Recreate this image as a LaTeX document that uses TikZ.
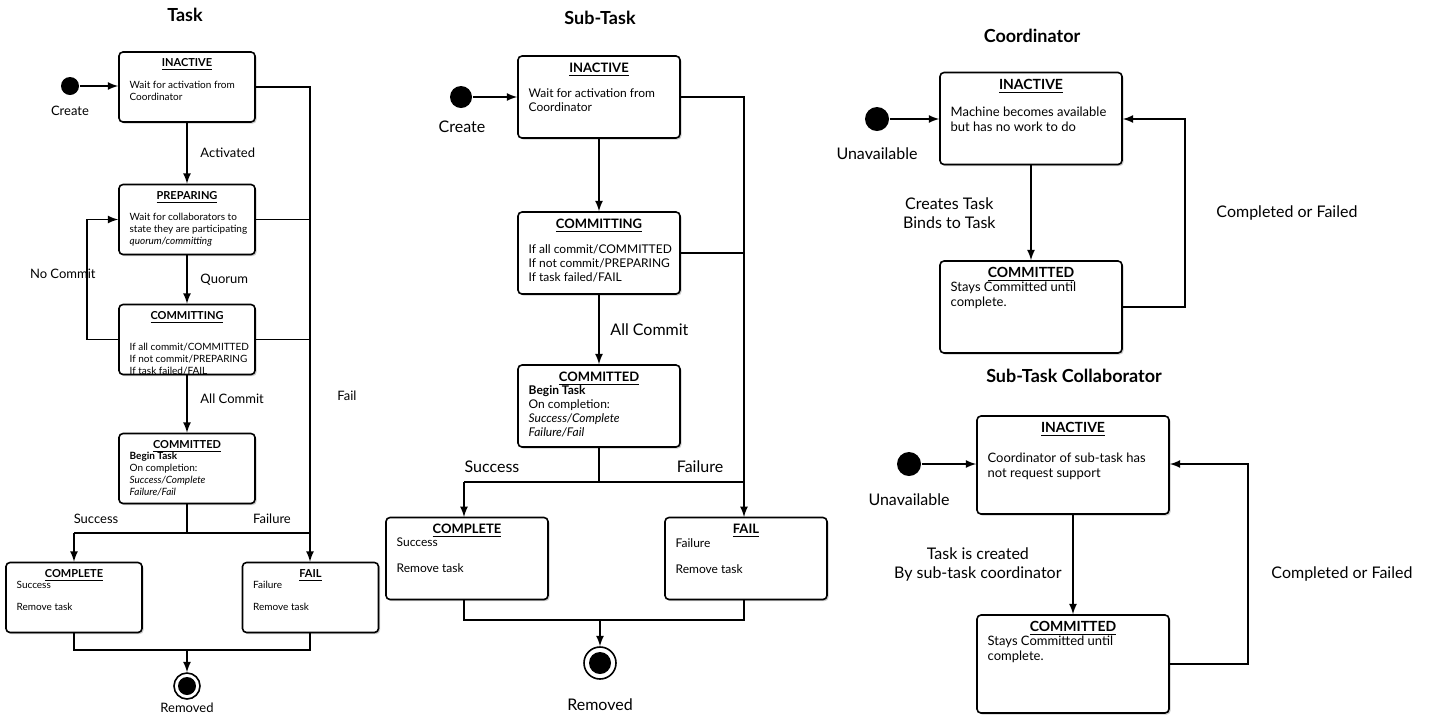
\documentclass[tikz,border=0pt]{standalone}
\usepackage{fontspec}
\setmainfont{Lato}
\usetikzlibrary{positioning, arrows, shadows}

\begin{document}
\begin{tikzpicture}
	[x=0.5pt, y=-0.5pt, >=latex, line width=0.8pt,
	 box/.style={draw, rounded corners=2pt, fill=white, drop shadow={shadow xshift=0.8pt, shadow yshift=-0.8pt, opacity=0.4}, inner sep=0pt},
	 sbox/.style={box, minimum width=68pt, minimum height=35pt},
	 mbox/.style={box, minimum width=81pt, minimum height=41pt},
	 cbox/.style={box, minimum width=91pt, minimum height=46pt},
	 kbox/.style={box, minimum width=96pt, minimum height=49pt},
	 start/.style={circle, fill=black, inner sep=0pt},
	 lab/.style={font=\fontsize{6.5}{7}\selectfont},
	 blab/.style={font=\fontsize{8}{9.5}\selectfont, align=center},
	 ttl/.style={font=\fontsize{9}{10}\selectfont\bfseries}]
   \useasboundingbox (0,0) rectangle (1450,720);
   % ---- Task
   \node[ttl] at (185,15) {Task};
   \node[sbox] (t_in) at (187,87) {};
   \node[sbox] (t_pr) at (187,219.5) {};
   \node[sbox] (t_cg) at (187,339.5) {};
   \node[sbox] (t_cd) at (187,468.5) {};
   \node[sbox] (t_co) at (74,597.5) {};
   \node[sbox] (t_fa) at (310.5,597.5) {};
   \node[start, minimum size=9pt] (t_s) at (70,86) {};
   \node[lab] at (70,111) {Create};
   \node[circle, draw, fill=white, minimum size=13pt, inner sep=0pt] (t_e) at (187,686) {};
   \node[start, minimum size=9pt] at (t_e) {};
   \node[lab] at (187,708) {Removed};
   \begin{scope}[every node/.style={font=\fontsize{5}{6}\selectfont, align=left, anchor=north west}]
   \node[anchor=north, font=\fontsize{5.5}{6}\selectfont\bfseries] at (t_in.north) {\underline{INACTIVE}};
   \node at ([xshift=2pt,yshift=-11pt]t_in.north west) {Wait for activation from\\Coordinator};
   \node[anchor=north, font=\fontsize{5.5}{6}\selectfont\bfseries] at (t_pr.north) {\underline{PREPARING}};
   \node at ([xshift=2pt,yshift=-11pt]t_pr.north west) {Wait for collaborators to\\state they are participating\\\textit{quorum/committing}};
   \node[anchor=north, font=\fontsize{5.5}{6}\selectfont\bfseries] at (t_cg.north) {\underline{COMMITTING}};
   \node at ([xshift=2pt,yshift=-16pt]t_cg.north west) {If all commit/COMMITTED\\If not commit/PREPARING\\If task failed/FAIL};
   \node[anchor=north, font=\fontsize{5.5}{6}\selectfont\bfseries] at (t_cd.north) {\underline{COMMITTED}};
   \node at ([xshift=2pt,yshift=-6pt]t_cd.north west) {\textbf{Begin Task}\\On completion:\\\textit{Success/Complete}\\\textit{Failure/Fail}};
   \node[anchor=north, font=\fontsize{5.5}{6}\selectfont\bfseries] at (t_co.north) {\underline{COMPLETE}};
   \node at ([xshift=2pt,yshift=-6pt]t_co.north west) {Success\\[5pt]Remove task};
   \node[anchor=north, font=\fontsize{5.5}{6}\selectfont\bfseries] at (t_fa.north) {\underline{FAIL}};
   \node at ([xshift=2pt,yshift=-6pt]t_fa.north west) {Failure\\[5pt]Remove task};
   \end{scope}
   \draw[->] (t_s) -- (t_in.west |- t_s);
   \draw[->] (t_in) -- node[lab, right=3pt] {Activated} (t_pr);
   \draw[->] (t_pr) -- node[lab, right=3pt] {Quorum} (t_cg);
   \draw[->] (t_cg) -- node[lab, right=3pt, pos=0.4] {All Commit} (t_cd);
   \draw[->] (t_cg.west) -- (87,339.5) -- node[lab, left=-8pt, pos=0.55] {No Commit} (87,219.5) -- (t_pr.west);
   \draw[->] (t_in.east) -- (310,87) -- node[lab, right=10pt, pos=0.65] {Fail} (t_fa.north -| 310,0);
   \draw (t_pr.east) -- (310,219.5) (t_cg.east) -- (310,339.5);
   \draw (t_cd.south) -- (187,533) (74,533) -- (310,533);
   \draw[->] (74,533) -- (t_co.north);
   \node[lab, above] at (96,531) {Success};
   \node[lab, above] at (272,531) {Failure};
   \draw (t_co.south) -- (74,650) -- (310,650) -- (310,632);
   \draw[->] (187,650) -- (t_e);
   % ---- Sub-Task
   \node[ttl] at (600,18) {Sub-Task};
   \node[mbox] (s_in) at (599,97) {};
   \node[mbox] (s_cg) at (599,253) {};
   \node[mbox] (s_cd) at (599,406) {};
   \node[mbox] (s_co) at (467,558.5) {};
   \node[mbox] (s_fa) at (746,558.5) {};
   \node[start, minimum size=11pt] (s_s) at (461,97) {};
   \node[blab] at (462,127) {Create};
   \node[circle, draw, fill=white, minimum size=16pt, inner sep=0pt] (s_e) at (600,663) {};
   \node[start, minimum size=11pt] at (s_e) {};
   \node[blab] at (600,705) {Removed};
   \begin{scope}[every node/.style={font=\fontsize{6}{7}\selectfont, align=left, anchor=north west}]
   \node[anchor=north, font=\fontsize{6.5}{7}\selectfont\bfseries] at (s_in.north) {\underline{INACTIVE}};
   \node at ([xshift=2pt,yshift=-13pt]s_in.north west) {Wait for activation from\\Coordinator};
   \node[anchor=north, font=\fontsize{6.5}{7}\selectfont\bfseries] at (s_cg.north) {\underline{COMMITTING}};
   \node at ([xshift=2pt,yshift=-13pt]s_cg.north west) {If all commit/COMMITTED\\If not commit/PREPARING\\If task failed/FAIL};
   \node[anchor=north, font=\fontsize{6.5}{7}\selectfont\bfseries] at (s_cd.north) {\underline{COMMITTED}};
   \node at ([xshift=2pt,yshift=-7pt]s_cd.north west) {\textbf{Begin Task}\\On completion:\\\textit{Success/Complete}\\\textit{Failure/Fail}};
   \node[anchor=north, font=\fontsize{6.5}{7}\selectfont\bfseries] at (s_co.north) {\underline{COMPLETE}};
   \node at ([xshift=2pt,yshift=-7pt]s_co.north west) {Success\\[6pt]Remove task};
   \node[anchor=north, font=\fontsize{6.5}{7}\selectfont\bfseries] at (s_fa.north) {\underline{FAIL}};
   \node at ([xshift=2pt,yshift=-7pt]s_fa.north west) {Failure\\[6pt]Remove task};
   \end{scope}
   \draw[->] (s_s) -- (s_in.west |- s_s);
   \draw[->] (s_in) -- (s_cg);
   \draw[->] (s_cg) -- node[blab, right=2pt] {All Commit} (s_cd);
   \draw[->] (s_in.east) -- (744,97) -- (744,517);
   \draw (s_cg.east) -- (744,253);
   \draw (s_cd.south) -- (599,482) (464,482) -- (744,482);
   \draw[->] (464,482) -- (464,517);
   \node[blab, above] at (492,480) {Success};
   \node[blab, above] at (700,480) {Failure};
   \draw (464,600) -- (464,620) -- (744,620) -- (744,600);
   \draw[->] (600,620) -- (s_e);
   % ---- Coordinator
   \node[ttl] at (1032,36) {Coordinator};
   \node[cbox] (c_in) at (1031,118.5) {};
   \node[cbox] (c_cd) at (1031,307) {};
   \node[start, minimum size=12pt] (c_s) at (877,119) {};
   \node[blab] at (877,154) {Unavailable};
   \begin{scope}[every node/.style={font=\fontsize{6.5}{7.5}\selectfont, align=left, anchor=north west}]
   \node[anchor=north, font=\fontsize{7}{8}\selectfont\bfseries] at (c_in.north) {\underline{INACTIVE}};
   \node at ([xshift=2pt,yshift=-14pt]c_in.north west) {Machine becomes available\\but has no work to do};
   \node[anchor=north, font=\fontsize{7}{8}\selectfont\bfseries] at (c_cd.north) {\underline{COMMITTED}};
   \node at ([xshift=2pt,yshift=-7pt]c_cd.north west) {Stays Committed until\\complete.};
   \end{scope}
   \draw[->] (c_s) -- (c_in.west |- c_s);
   \draw[->] (c_in) -- node[blab, left=14pt] {Creates Task\\Binds to Task} (c_cd);
   \draw[->] (c_cd.east) -- (1185,307) -- node[blab, right=12pt] {Completed or Failed} (1185,119) -- (c_in.east |- 0,119);
   % ---- Sub-Task Collaborator
   \node[ttl] at (1074,376) {Sub-Task Collaborator};
   \node[kbox] (k_in) at (1073,465) {};
   \node[kbox] (k_cd) at (1073,664) {};
   \node[start, minimum size=12pt] (k_s) at (909,464) {};
   \node[blab] at (909,500) {Unavailable};
   \begin{scope}[every node/.style={font=\fontsize{6.5}{7.5}\selectfont, align=left, anchor=north west}]
   \node[anchor=north, font=\fontsize{7}{8}\selectfont\bfseries] at (k_in.north) {\underline{INACTIVE}};
   \node at ([xshift=2pt,yshift=-15pt]k_in.north west) {Coordinator of sub-task has\\not request support};
   \node[anchor=north, font=\fontsize{7}{8}\selectfont\bfseries] at (k_cd.north) {\underline{COMMITTED}};
   \node at ([xshift=2pt,yshift=-7pt]k_cd.north west) {Stays Committed until\\complete.};
   \end{scope}
   \draw[->] (k_s) -- (k_in.west |- k_s);
   \draw[->] (k_in) -- node[blab, left=2pt] {Task is created\\By sub-task coordinator} (k_cd);
   \draw[->] (k_cd.east) -- (1248,664) -- node[blab, right=8pt, pos=0.45] {Completed or Failed} (1248,464) -- (k_in.east |- 0,464);
\end{tikzpicture}
\end{document}
